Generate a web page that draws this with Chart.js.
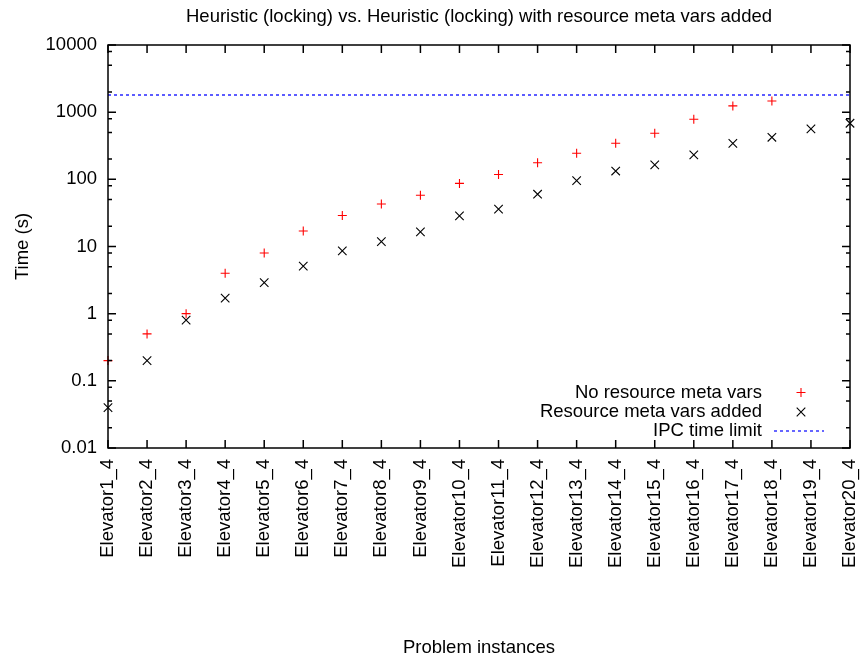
<!DOCTYPE html>
<html>
<head>
<meta charset="utf-8">
<title>Heuristic (locking) timings</title>
<script src="https://cdn.jsdelivr.net/npm/chart.js@4/dist/chart.umd.min.js"></script>
<style>
  html, body { margin: 0; padding: 0; background: #ffffff; }
  canvas { display: block; }
</style>
</head>
<body>
<canvas id="chart" width="861" height="662"></canvas>
<script>
// Problem instances on the x axis
const instances = [
  'Elevator1_4', 'Elevator2_4', 'Elevator3_4', 'Elevator4_4', 'Elevator5_4',
  'Elevator6_4', 'Elevator7_4', 'Elevator8_4', 'Elevator9_4', 'Elevator10_4',
  'Elevator11_4', 'Elevator12_4', 'Elevator13_4', 'Elevator14_4', 'Elevator15_4',
  'Elevator16_4', 'Elevator17_4', 'Elevator18_4', 'Elevator19_4', 'Elevator20_4'
];

// Solve times in seconds (null = not solved within the limit)
const noResourceMetaVars = [
  0.2, 0.5, 1.0, 4.0, 8.0, 17, 29, 43, 58, 87,
  118, 177, 244, 344, 485, 784, 1240, 1470, null, null
];
const resourceMetaVarsAdded = [
  0.04, 0.2, 0.8, 1.7, 2.9, 5.1, 8.6, 11.8, 16.5, 28.5,
  36, 60, 96, 133, 164, 231, 344, 423, 562, 684
];

// IPC time limit in seconds
const ipcTimeLimit = 1800;

// Logarithmic y axis ticks
const yMajorTicks = [0.01, 0.1, 1, 10, 100, 1000, 10000];
const yTickLabels = ['0.01', '0.1', '1', '10', '100', '1000', '10000'];
const yMinorFactors = [2, 5, 8];

const seriesNames = ['No resource meta vars', 'Resource meta vars added', 'IPC time limit'];

const FONT_FAMILY = "'Liberation Sans', Arial, Helvetica, sans-serif";
const FONT_SIZE = 18.5;
const TEXT_COLOR = '#000000';
const LIMIT_COLOR = '#3535ff';

function strokeLimitLine(ctx, x0, x1, y) {
  ctx.save();
  ctx.strokeStyle = LIMIT_COLOR;
  ctx.lineWidth = 1.6;
  ctx.setLineDash([3, 3]);
  ctx.beginPath();
  ctx.moveTo(x0, Math.round(y));
  ctx.lineTo(x1, Math.round(y));
  ctx.stroke();
  ctx.restore();
}

// Gnuplot-style frame: border, inward ticks on all four sides, limit line and key
const gnuplotFrame = {
  id: 'gnuplotFrame',
  beforeDatasetsDraw(chart) {
    const { ctx, chartArea } = chart;
    strokeLimitLine(ctx, chartArea.left, chartArea.right,
      chart.scales.y.getPixelForValue(ipcTimeLimit));
  },
  afterDatasetsDraw(chart) {
    const { ctx, chartArea } = chart;
    const { left, right, top, bottom } = chartArea;
    const xs = chart.scales.x;
    const ys = chart.scales.y;
    const major = 8, minor = 4;

    ctx.save();
    ctx.strokeStyle = '#000000';
    ctx.lineWidth = 1.5;
    ctx.setLineDash([]);

    ctx.beginPath();
    // x ticks, bottom and mirrored on top
    instances.forEach((_, i) => {
      const px = xs.getPixelForValue(i);
      ctx.moveTo(px, bottom); ctx.lineTo(px, bottom - major);
      ctx.moveTo(px, top); ctx.lineTo(px, top + major);
    });
    // y major ticks, left and mirrored on right
    yMajorTicks.forEach(v => {
      const py = ys.getPixelForValue(v);
      ctx.moveTo(left, py); ctx.lineTo(left + major, py);
      ctx.moveTo(right, py); ctx.lineTo(right - major, py);
    });
    // y minor ticks inside each decade
    yMajorTicks.slice(0, -1).forEach(d => {
      yMinorFactors.forEach(f => {
        const py = ys.getPixelForValue(d * f);
        ctx.moveTo(left, py); ctx.lineTo(left + minor, py);
        ctx.moveTo(right, py); ctx.lineTo(right - minor, py);
      });
    });
    ctx.stroke();

    // border
    ctx.strokeRect(left, top, right - left, bottom - top);

    // key
    const textRight = 762;
    const symbolX = 801;
    const rows = [392.5, 412, 431];
    ctx.font = FONT_SIZE + 'px ' + FONT_FAMILY;
    ctx.fillStyle = TEXT_COLOR;
    ctx.textAlign = 'right';
    ctx.textBaseline = 'middle';
    seriesNames.forEach((name, i) => ctx.fillText(name, textRight, rows[i]));

    ctx.lineWidth = 1.1;
    // plus sample
    ctx.strokeStyle = '#ff0000';
    ctx.beginPath();
    ctx.moveTo(symbolX - 4.5, rows[0]); ctx.lineTo(symbolX + 4.5, rows[0]);
    ctx.moveTo(symbolX, rows[0] - 4.5); ctx.lineTo(symbolX, rows[0] + 4.5);
    ctx.stroke();
    // cross sample
    ctx.strokeStyle = '#000000';
    ctx.beginPath();
    ctx.moveTo(symbolX - 4.3, rows[1] - 4.3); ctx.lineTo(symbolX + 4.3, rows[1] + 4.3);
    ctx.moveTo(symbolX - 4.3, rows[1] + 4.3); ctx.lineTo(symbolX + 4.3, rows[1] - 4.3);
    ctx.stroke();
    ctx.restore();
    // limit line sample
    strokeLimitLine(ctx, 774, 824, rows[2]);
  }
};

new Chart(document.getElementById('chart'), {
  type: 'line',
  data: {
    labels: instances,
    datasets: [
      {
        label: seriesNames[0],
        data: noResourceMetaVars,
        showLine: false,
        pointStyle: 'cross',
        pointRadius: 4.5,
        pointHoverRadius: 4.5,
        pointBorderWidth: 1.1,
        borderColor: '#ff0000',
        backgroundColor: '#ff0000',
        clip: false
      },
      {
        label: seriesNames[1],
        data: resourceMetaVarsAdded,
        showLine: false,
        pointStyle: 'crossRot',
        pointRadius: 6,
        pointHoverRadius: 6,
        pointBorderWidth: 1.1,
        borderColor: '#000000',
        backgroundColor: '#000000',
        clip: false
      }
    ]
  },
  options: {
    responsive: false,
    animation: false,
    events: [],
    layout: { padding: { left: 0, right: 11, top: 0, bottom: 0 } },
    plugins: {
      legend: { display: false },
      tooltip: { enabled: false },
      title: {
        display: true,
        fullSize: false,
        text: 'Heuristic (locking) vs. Heuristic (locking) with resource meta vars added',
        color: TEXT_COLOR,
        font: { family: FONT_FAMILY, size: FONT_SIZE, weight: 'normal' },
        padding: { top: 6, bottom: 16.8 }
      }
    },
    scales: {
      x: {
        type: 'category',
        offset: false,
        grid: { display: false, drawTicks: false },
        border: { display: false },
        ticks: {
          autoSkip: false,
          minRotation: 90,
          maxRotation: 90,
          padding: 11,
          color: TEXT_COLOR,
          font: { family: FONT_FAMILY, size: FONT_SIZE }
        },
        title: {
          display: true,
          text: 'Problem instances',
          color: TEXT_COLOR,
          font: { family: FONT_FAMILY, size: FONT_SIZE },
          padding: { top: 0, bottom: 2.5 }
        },
        afterFit(scale) {
          scale.height = 214;
          scale.paddingLeft = 0;
          scale.paddingRight = 0;
        }
      },
      y: {
        type: 'logarithmic',
        min: yMajorTicks[0],
        max: yMajorTicks[yMajorTicks.length - 1],
        grid: { display: false, drawTicks: false },
        border: { display: false },
        afterBuildTicks(scale) {
          scale.ticks = yMajorTicks.map(v => ({ value: v, major: true }));
        },
        ticks: {
          padding: 11,
          color: TEXT_COLOR,
          font: { family: FONT_FAMILY, size: FONT_SIZE },
          callback(value) {
            const i = yMajorTicks.indexOf(value);
            return i >= 0 ? yTickLabels[i] : '';
          }
        },
        title: {
          display: true,
          text: 'Time (s)',
          color: TEXT_COLOR,
          font: { family: FONT_FAMILY, size: FONT_SIZE },
          padding: { top: 11.5, bottom: 0 }
        },
        afterFit(scale) {
          scale.width = 108;
          scale.paddingTop = 0;
          scale.paddingBottom = 0;
        }
      }
    }
  },
  plugins: [gnuplotFrame]
});
</script>
</body>
</html>
